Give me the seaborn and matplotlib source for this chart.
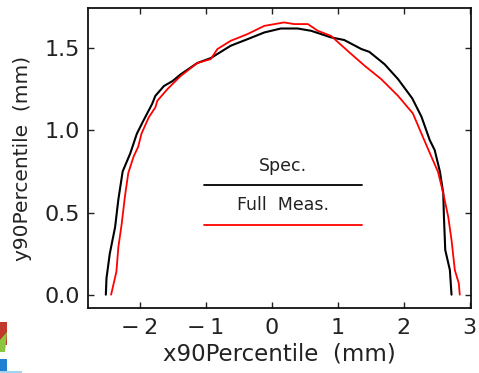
import matplotlib
matplotlib.use("Agg")
import matplotlib.pyplot as plt
import seaborn as sns
import pandas as pd
from matplotlib.patches import Polygon

# Data
spec_x = [-2.51, -2.50, -2.45, -2.37, -2.32, -2.255, -2.14, -2.09, -2.04, -1.94, -1.81, -1.76,
          -1.63, -1.50, -1.38, -1.125, -0.92, -0.62, -0.365, -0.11, 0.14, 0.395, 0.60, 0.90,
          1.10, 1.36, 1.48, 1.71, 1.915, 2.13, 2.27, 2.395, 2.47, 2.55, 2.60, 2.61, 2.63,
          2.70, 2.725]
spec_y = [0.00, 0.10, 0.25, 0.41, 0.58, 0.75, 0.86, 0.92, 0.98, 1.06, 1.16, 1.21,
          1.27, 1.30, 1.34, 1.41, 1.44, 1.515, 1.555, 1.596, 1.62, 1.62, 1.606, 1.566,
          1.55, 1.495, 1.478, 1.403, 1.312, 1.195, 1.083, 0.941, 0.88, 0.748, 0.617, 0.474, 0.272,
          0.15, 0.0]

meas_x = [-2.43, -2.35, -2.32, -2.27, -2.22, -2.17, -2.09, -2.02, -1.97, -1.86, -1.76, -1.73,
          -1.58, -1.38, -1.125, -0.92, -0.82, -0.62, -0.365, -0.11, 0.19, 0.34, 0.55, 0.70,
          0.90, 1.18, 1.41, 1.66, 1.915, 2.14, 2.29, 2.42, 2.52, 2.60, 2.675, 2.725, 2.775,
          2.835, 2.85]
meas_y = [0.00, 0.14, 0.29, 0.43, 0.60, 0.74, 0.84, 0.90, 0.98, 1.079, 1.14, 1.18,
          1.25, 1.33, 1.41, 1.434, 1.495, 1.545, 1.586, 1.636, 1.657, 1.647, 1.647, 1.606,
          1.575, 1.474, 1.393, 1.312, 1.21, 1.103, 0.961, 0.84, 0.748, 0.617, 0.474, 0.333, 0.15,
          0.069, 0.0]

series_names = ["Spec.", "Full  Meas."]
series_colors = ["#000000", "#ff0000"]
x_ticks = [-2, -1, 0, 1, 2, 3]
x_tick_labels = ["\u2212\u20092", "\u2212\u20091", "0", "1", "2", "3"]
y_ticks = [0.0, 0.5, 1.0, 1.5]
y_tick_labels = ["0.0", "0.5", "1.0", "1.5"]

sns.set_theme(style="ticks")
plt.rcParams['font.family'] = ['DejaVu Sans']

fig = plt.figure(figsize=(4.79, 3.73), dpi=100)
ax = fig.add_axes([88 / 479, 1 - 308.3 / 373, (471 - 88) / 479, (308.3 - 8.3) / 373])

df_spec = pd.DataFrame({"x": spec_x, "y": spec_y})
df_meas = pd.DataFrame({"x": meas_x, "y": meas_y})
sns.lineplot(data=df_spec, x="x", y="y", sort=False, ax=ax, color=series_colors[0], lw=1.5)
sns.lineplot(data=df_meas, x="x", y="y", sort=False, ax=ax, color=series_colors[1], lw=1.3)

ax.set_xlim(-2.78, 3.02)
ax.set_ylim(-0.083, 1.743)
ax.set_xticks(x_ticks)
ax.set_yticks(y_ticks)
ax.set_xticklabels(x_tick_labels)
ax.set_yticklabels(y_tick_labels)
ax.tick_params(direction="in", length=4, width=1, top=True, right=True,
               labelsize=16, colors="#222222", pad=6)
ax.tick_params(axis="x", pad=7)
for s in ax.spines.values():
    s.set_linewidth(1.3)
    s.set_color("#111111")

ax.set_xlabel("x90Percentile  (mm)", fontsize=16.5, color="#222222", labelpad=3)
ax.set_ylabel("y90Percentile  (mm)", fontsize=14.5, color="#222222", labelpad=9)

# In-plot legend
ax.text(0.167, 0.783, series_names[0], ha="center", va="center", fontsize=12.5, color="#222222")
ax.plot([-1.02, 1.37], [0.667, 0.667], color=series_colors[0], lw=1.3)
ax.text(0.167, 0.544, series_names[1], ha="center", va="center", fontsize=12.5, color="#222222")
ax.plot([-1.02, 1.37], [0.426, 0.426], color=series_colors[1], lw=1.3)

# Decorative logo fragment bottom-left
def fpoly(pts, color):
    fig.patches.append(Polygon([(x / 479, 1 - y / 373) for x, y in pts], closed=True,
                               transform=fig.transFigure, facecolor=color, edgecolor="none"))
fpoly([(0, 322), (7, 322), (7, 345), (0, 345)], "#c0392b")
fpoly([(0, 340), (7, 332), (5, 352), (0, 352)], "#8cc63f")
fpoly([(0, 359), (7, 359), (7, 372), (0, 372)], "#1f7fd0")
fpoly([(0, 371), (22, 371), (22, 373), (0, 373)], "#9fd3f0")

fig.savefig("out.png", dpi=100)
